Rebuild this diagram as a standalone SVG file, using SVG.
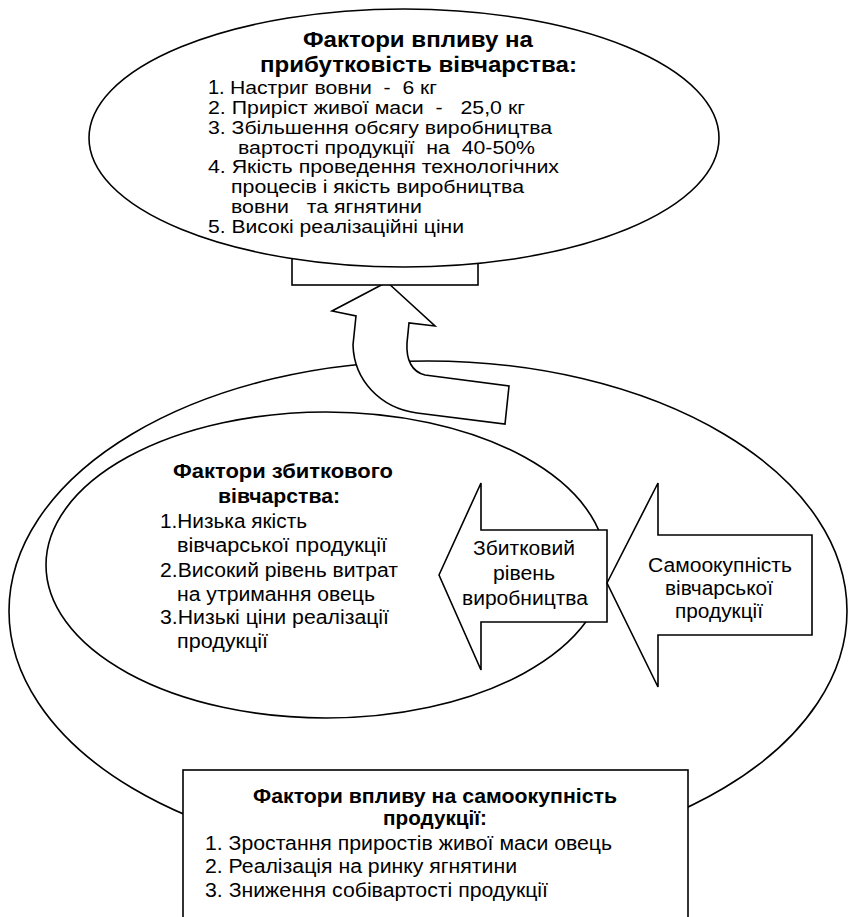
<svg xmlns="http://www.w3.org/2000/svg" width="848" height="917" viewBox="0 0 848 917">
<style>
.sh{fill:#fff;stroke:#000;stroke-width:1.6}
.t{font-family:"Liberation Sans",Arial,sans-serif;font-size:20px;fill:#000}
.b{font-weight:bold}
.h{font-size:22px}
.l{font-size:17.5px}
</style>
<rect x="0" y="0" width="848" height="917" fill="#fff"/>
<g id="outer-ellipse">
<ellipse class="sh" cx="428" cy="611" rx="419" ry="250"/>
</g>
<g id="loss-factors">
<ellipse class="sh" cx="326" cy="565" rx="280" ry="153"/>
<text class="t b" x="173" y="478" textLength="220" lengthAdjust="spacingAndGlyphs">Фактори збиткового</text>
<text class="t b" x="218" y="503" textLength="122" lengthAdjust="spacingAndGlyphs">вівчарства:</text>
<text class="t" x="160" y="528" textLength="147" lengthAdjust="spacingAndGlyphs">1.Низька якість</text>
<text class="t" x="177" y="552" textLength="210" lengthAdjust="spacingAndGlyphs">вівчарської продукції</text>
<text class="t" x="160" y="577" textLength="238" lengthAdjust="spacingAndGlyphs">2.Високий рівень витрат</text>
<text class="t" x="177" y="601" textLength="198" lengthAdjust="spacingAndGlyphs">на утримання овець</text>
<text class="t" x="160" y="624" textLength="229" lengthAdjust="spacingAndGlyphs">3.Низькі ціни реалізації</text>
<text class="t" x="177" y="648" textLength="91" lengthAdjust="spacingAndGlyphs">продукції</text>
</g>
<g id="connectors">
<path id="curved-arrow" class="sh" d="M387,282 L435,326 L409,323 L407,343 C406,360 412,372 425,375 L509,386 L505,424 L417,413 C380,408 354,380 353,345 L356,316 L332,311 Z"/>
</g>
<g id="loss-level">
<path class="sh" d="M439,575 L481,483 L481,530 L607,530 L607,622 L481,622 L481,670 Z"/>
<text class="t" x="473" y="555" textLength="102" lengthAdjust="spacingAndGlyphs">Збитковий</text>
<text class="t" x="493" y="580" textLength="62" lengthAdjust="spacingAndGlyphs">рівень</text>
<text class="t" x="462" y="605" textLength="126" lengthAdjust="spacingAndGlyphs">виробництва</text>
</g>
<g id="self-sufficiency">
<path class="sh" d="M607,583 L658,483 L658,535 L812,535 L812,635 L658,635 L658,687 Z"/>
<text class="t" x="648" y="572" textLength="144" lengthAdjust="spacingAndGlyphs">Самоокупність</text>
<text class="t" x="665" y="595" textLength="108" lengthAdjust="spacingAndGlyphs">вівчарської</text>
<text class="t" x="675" y="618" textLength="88" lengthAdjust="spacingAndGlyphs">продукції</text>
</g>
<g id="profit-factors">
<rect class="sh" x="292" y="248" width="186" height="37"/>
<ellipse class="sh" cx="404" cy="138" rx="315" ry="129"/>
<text class="t b h" x="303" y="47" textLength="230" lengthAdjust="spacingAndGlyphs">Фактори впливу на</text>
<text class="t b h" x="260" y="72" textLength="317" lengthAdjust="spacingAndGlyphs">прибутковість вівчарства:</text>
<text class="t" x="208" y="94" font-size="13">1.</text>
<text class="t l" xml:space="preserve" x="230" y="94" textLength="207" lengthAdjust="spacingAndGlyphs">Настриг вовни  -  6 кг</text>
<text class="t l" xml:space="preserve" x="208" y="113.9" textLength="317" lengthAdjust="spacingAndGlyphs">2. Приріст живої маси  -   25,0 кг</text>
<text class="t l" x="208" y="133.7" textLength="344" lengthAdjust="spacingAndGlyphs">3. Збільшення обсягу виробництва</text>
<text class="t l" xml:space="preserve" x="238" y="153.6" textLength="297" lengthAdjust="spacingAndGlyphs">вартості продукції  на  40-50%</text>
<text class="t l" x="208" y="173.4" textLength="351" lengthAdjust="spacingAndGlyphs">4. Якість проведення технологічних</text>
<text class="t l" x="231" y="193.3" textLength="293" lengthAdjust="spacingAndGlyphs">процесів і якість виробництва</text>
<text class="t l" xml:space="preserve" x="231" y="213.2" textLength="191" lengthAdjust="spacingAndGlyphs">вовни   та ягнятини</text>
<text class="t l" x="208" y="233" textLength="256" lengthAdjust="spacingAndGlyphs">5. Високі реалізаційні ціни</text>
</g>
<g id="self-factors">
<rect class="sh" x="183" y="770" width="505" height="160"/>
<text class="t b" x="253" y="803" textLength="364" lengthAdjust="spacingAndGlyphs">Фактори впливу на самоокупність</text>
<text class="t b" x="383" y="825" textLength="104" lengthAdjust="spacingAndGlyphs">продукції:</text>
<text class="t" x="205" y="850" textLength="407" lengthAdjust="spacingAndGlyphs">1. Зростання приростів живої маси овець</text>
<text class="t" x="205" y="873" textLength="312" lengthAdjust="spacingAndGlyphs">2. Реалізація на ринку ягнятини</text>
<text class="t" x="205" y="897" textLength="343" lengthAdjust="spacingAndGlyphs">3. Зниження собівартості продукції</text>
</g>
</svg>
